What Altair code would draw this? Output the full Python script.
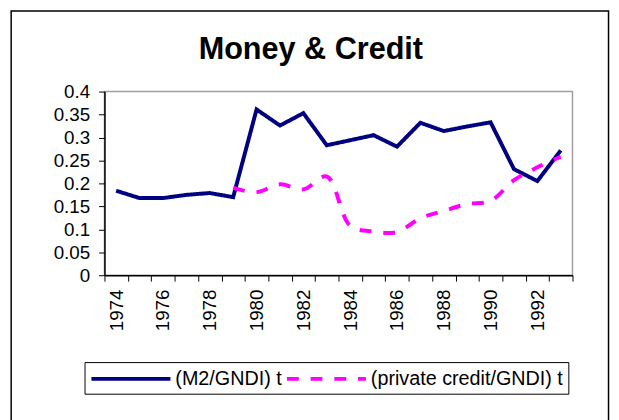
import altair as alt
import pandas as pd

years = list(range(1974, 1994))
m2 = [0.184, 0.168, 0.168, 0.175, 0.179, 0.170, 0.361, 0.326, 0.353, 0.283,
      0.294, 0.305, 0.280, 0.332, 0.314, 0.324, 0.333, 0.231, 0.205, 0.272]
credit_years = list(range(1979, 1994))
credit = [0.190, 0.181, 0.198, 0.187, 0.215, 0.108, 0.095, 0.094, 0.124,
          0.140, 0.155, 0.162, 0.207, 0.235, 0.258]
y_ticks = [0, 0.05, 0.1, 0.15, 0.2, 0.25, 0.3, 0.35, 0.4]
s1 = "(M2/GNDI) t"
s2 = "(private credit/GNDI) t"
title_text = "Money & Credit"

df = pd.DataFrame(
    {"year": years + credit_years,
     "value": m2 + credit,
     "series": [s1] * len(years) + [s2] * len(credit_years)}
)

FONT = "Liberation Sans"

x_enc = alt.X(
    "year:O",
    scale=alt.Scale(type="band", paddingInner=0, paddingOuter=0),
    bandPosition=0.5,
    axis=alt.Axis(
        title=None, tickBand="extent", labelAngle=-90, labelFontSize=19,
        labelFont=FONT, labelColor="black", tickColor="black", tickSize=6,
        domainColor="black", domainWidth=1.5, labelPadding=8,
        labelExpr="datum.value % 2 == 0 ? datum.label : ''",
    ),
)
y_enc = alt.Y(
    "value:Q",
    scale=alt.Scale(domain=[0, 0.4], nice=False),
    axis=alt.Axis(
        title=None, values=y_ticks, format="~g", grid=False, labelFontSize=19,
        labelFont=FONT, labelColor="black", tickColor="black", tickSize=6,
        domainColor="black", domainWidth=1.5, labelPadding=9,
    ),
)

m2_line = alt.Chart(df).transform_filter(alt.datum.series == s1).mark_line(
    strokeWidth=4, strokeCap="butt", strokeJoin="miter"
).encode(
    x=x_enc, y=y_enc,
    color=alt.Color("series:N", scale=alt.Scale(domain=[s1, s2], range=["#000080", "#ff00ff"]),
                    legend=alt.Legend(title=None)),
    strokeDash=alt.StrokeDash("series:N", scale=alt.Scale(domain=[s1, s2], range=[[1, 0], [12, 12]]),
                              legend=alt.Legend(title=None)),
)

credit_line = alt.Chart(df).transform_filter(alt.datum.series == s2).mark_line(
    strokeWidth=4, strokeCap="butt", interpolate="catmull-rom"
).encode(
    x=x_enc, y=y_enc,
    color=alt.Color("series:N"),
    strokeDash=alt.StrokeDash("series:N"),
)

border = alt.Chart(pd.DataFrame({"k": [0]})).mark_rect(
    fillOpacity=0, stroke="black", strokeWidth=1.5
).encode(
    x=alt.value(-94.5), x2=alt.value(510.5), y=alt.value(-81.5), y2=alt.value(360)
)

title = alt.Chart(pd.DataFrame({"t": [title_text]})).mark_text(
    font=FONT, fontSize=31, fontWeight="bold", color="black",
    align="center", baseline="alphabetic"
).encode(
    text="t:N", x=alt.value(209), y=alt.value(-33)
)

chart = alt.layer(border, title, m2_line, credit_line).properties(
    width=474, height=186,
    autosize=alt.AutoSizeParams(type="none"),
    padding={"left": 97.7, "top": 82, "right": 39, "bottom": 144},
).configure_view(
    stroke="#a0a0a0", strokeWidth=1.5
).configure_legend(
    orient="none", legendX=-20.2, legendY=274, direction="horizontal",
    strokeColor="black", strokeWidth=1, padding=5, symbolType="M-1,0H7",
    symbolSize=400, symbolStrokeWidth=4, labelFontSize=20, labelFont=FONT,
    labelColor="black", labelOffset=63, columnPadding=-3, fillColor="white",
    columns=2, labelLimit=400,
)

chart.save("out.html", embed_options={"renderer": "svg", "actions": False})
